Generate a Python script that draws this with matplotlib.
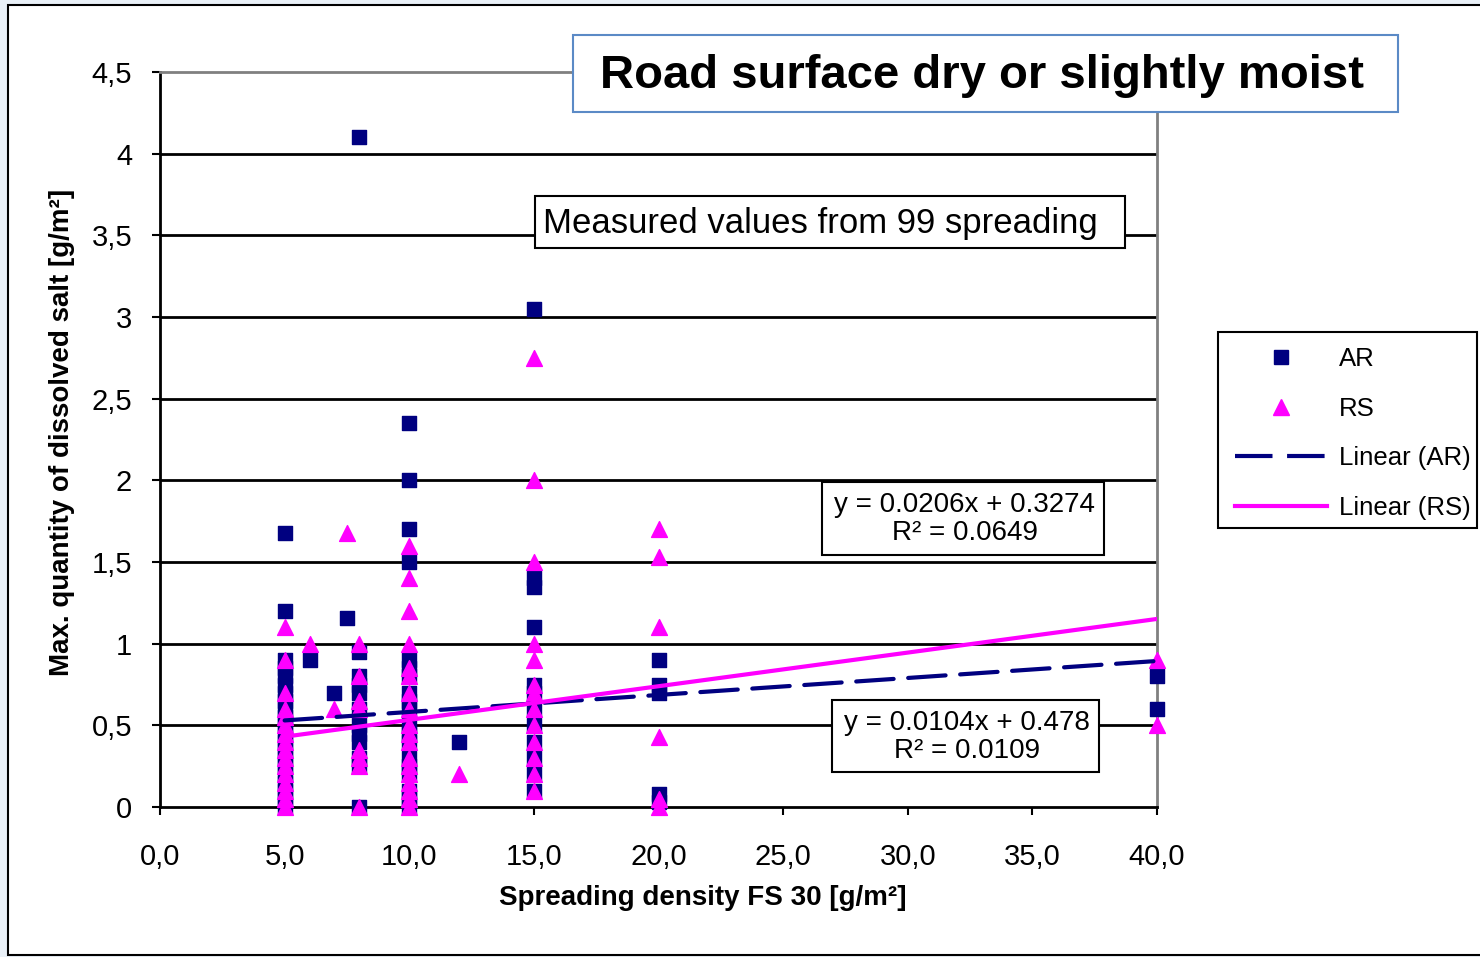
import matplotlib.pyplot as plt
from matplotlib.patches import Rectangle
from matplotlib.lines import Line2D

plt.rcParams['font.family'] = ['Liberation Sans', 'DejaVu Sans']

# AR measurements (x = spreading density, y = dissolved salt)
ar_x = [5] * 21 + [6, 7, 7.5] + [8] * 12 + [10] * 19 + [12] + [15] * 12 + [20] * 5 + [40] * 2
ar_y = [1.68, 1.2, 0.9, 0.85, 0.8, 0.75, 0.7, 0.65, 0.6, 0.55, 0.5, 0.45, 0.4, 0.35, 0.3, 0.25, 0.2, 0.15, 0.1, 0.05, 0.0,
        0.9, 0.7, 1.16,
        4.1, 0.95, 0.8, 0.75, 0.7, 0.6, 0.5, 0.45, 0.4, 0.3, 0.25, 0.0,
        2.35, 2.0, 1.7, 1.5, 0.9, 0.85, 0.8, 0.7, 0.65, 0.6, 0.5, 0.45, 0.4, 0.3, 0.25, 0.2, 0.1, 0.05, 0.0,
        0.4,
        3.05, 1.4, 1.35, 1.1, 0.75, 0.7, 0.6, 0.5, 0.4, 0.3, 0.2, 0.1,
        0.9, 0.75, 0.7, 0.08, 0.03,
        0.8, 0.6]

# RS measurements
rs_x = [5] * 16 + [6, 7, 7.5] + [8] * 8 + [10] * 18 + [12] + [15] * 13 + [20] * 6 + [40] * 2
rs_y = [1.1, 0.9, 0.7, 0.6, 0.55, 0.5, 0.45, 0.4, 0.35, 0.3, 0.25, 0.2, 0.15, 0.1, 0.05, 0.0,
        1.0, 0.6, 1.68,
        1.0, 0.8, 0.65, 0.6, 0.35, 0.3, 0.25, 0.0,
        1.6, 1.4, 1.2, 1.0, 0.85, 0.8, 0.7, 0.6, 0.5, 0.45, 0.4, 0.3, 0.25, 0.2, 0.15, 0.1, 0.05, 0.0,
        0.2,
        2.75, 2.0, 1.5, 1.0, 0.9, 0.75, 0.7, 0.6, 0.5, 0.4, 0.3, 0.2, 0.1,
        1.7, 1.53, 1.1, 0.43, 0.05, 0.0,
        0.9, 0.5]

# trend lines as stated on the chart
ar_fit = (0.0104, 0.478)
rs_fit = (0.0206, 0.3274)
fit_range = [5, 40]

x_ticks = [0, 5, 10, 15, 20, 25, 30, 35, 40]
x_labels = ['0,0', '5,0', '10,0', '15,0', '20,0', '25,0', '30,0', '35,0', '40,0']
y_ticks = [0, 0.5, 1, 1.5, 2, 2.5, 3, 3.5, 4, 4.5]
y_labels = ['0', '0,5', '1', '1,5', '2', '2,5', '3', '3,5', '4', '4,5']

W, H = 1480, 957
navy = '#000080'
magenta = '#FF00FF'

fig = plt.figure(figsize=(W / 100, H / 100), dpi=100, facecolor='#e9f0f7')


def px_box(x0, y0, x1, y1, edge, z=8):
    # rectangle given in image pixels (origin top left)
    r = Rectangle((x0 / W, 1 - y1 / H), (x1 - x0) / W, (y1 - y0) / H, transform=fig.transFigure,
                  facecolor='white', edgecolor=edge, lw=1.5, zorder=z)
    fig.patches.append(r)


px_box(8, 5, 1490, 955, 'black', z=-5)

ax = fig.add_axes([160 / W, 1 - 807 / H, 997 / W, 735 / H])
ax.set_xlim(0, 40)
ax.set_ylim(0, 4.5)

for yv in y_ticks[1:-1]:
    ax.axhline(yv, color='black', lw=2, zorder=1)

ax.scatter(ar_x, ar_y, marker='s', s=110, color=navy, zorder=3, clip_on=False, label='AR')
ax.scatter(rs_x, rs_y, marker='^', s=130, color=magenta, zorder=4, clip_on=False, label='RS')

ar_line = [ar_fit[0] * x + ar_fit[1] for x in fit_range]
rs_line = [rs_fit[0] * x + rs_fit[1] for x in fit_range]
ax.plot(fit_range, ar_line, color=navy, lw=3, dashes=(9, 3.5), dash_capstyle='round',
        zorder=5, label='Linear (AR)')
ax.plot(fit_range, rs_line, color=magenta, lw=3, zorder=5, label='Linear (RS)')

ax.set_xticks(x_ticks)
ax.set_xticklabels(x_labels)
ax.set_yticks(y_ticks)
ax.set_yticklabels(y_labels)
ax.tick_params(labelsize=21, length=6, width=1.5)
ax.tick_params(axis='x', pad=20)
ax.tick_params(axis='y', pad=14)

for side in ['left', 'bottom']:
    ax.spines[side].set_linewidth(2)
for side in ['top', 'right']:
    ax.spines[side].set_color('#808080')
    ax.spines[side].set_linewidth(2)

ax.set_xlabel('Spreading density FS 30 [g/m²]', fontsize=20, fontweight='bold')
ax.set_ylabel('Max. quantity of dissolved salt [g/m²]', fontsize=20, fontweight='bold')
ax.xaxis.set_label_coords((703 - 160) / 997, (807 - 898) / 735)
ax.yaxis.set_label_coords((62 - 160) / 997, (807 - 432) / 735)
ax.xaxis.label.set_va('center')
ax.yaxis.label.set_va('center')

# title box
px_box(573, 35, 1398, 112, '#5b8ac6')
fig.text(982 / W, 1 - 76 / H, 'Road surface dry or slightly moist', fontsize=34, fontweight='bold',
         ha='center', va='center', zorder=10)

px_box(535, 196, 1125, 248, 'black')
fig.text(820 / W, 1 - 223 / H, 'Measured values from 99 spreading', fontsize=25,
         ha='center', va='center', zorder=10)

px_box(822, 482, 1104, 555, 'black')
fig.text(965 / W, 1 - 519 / H, 'y = 0.0206x + 0.3274\nR² = 0.0649', fontsize=20,
         ha='center', va='center', linespacing=1.1, zorder=10)

px_box(832, 700, 1099, 772, 'black')
fig.text(967 / W, 1 - 737 / H, 'y = 0.0104x + 0.478\nR² = 0.0109', fontsize=20,
         ha='center', va='center', linespacing=1.1, zorder=10)

# legend: frame drawn as its own box so its size matches the reference
px_box(1218, 332, 1477, 528, 'black', z=4)
handles = [
    Line2D([], [], marker='s', color=navy, ls='none', markersize=10),
    Line2D([], [], marker='^', color=magenta, ls='none', markersize=11),
    Line2D([], [], color=navy, lw=3, dashes=(9, 3.5)),
    Line2D([], [], color=magenta, lw=3),
]
leg = fig.legend(handles, ['AR', 'RS', 'Linear (AR)', 'Linear (RS)'], loc='upper left',
                 bbox_to_anchor=(1222 / W, 1 - 334 / H), fontsize=18.5, frameon=False,
                 handlelength=3.6, handletextpad=0.45, labelspacing=1.0,
                 borderpad=0.5, borderaxespad=0)
leg.set_zorder(6)

fig.savefig('out.png', dpi=100, facecolor=fig.get_facecolor())
